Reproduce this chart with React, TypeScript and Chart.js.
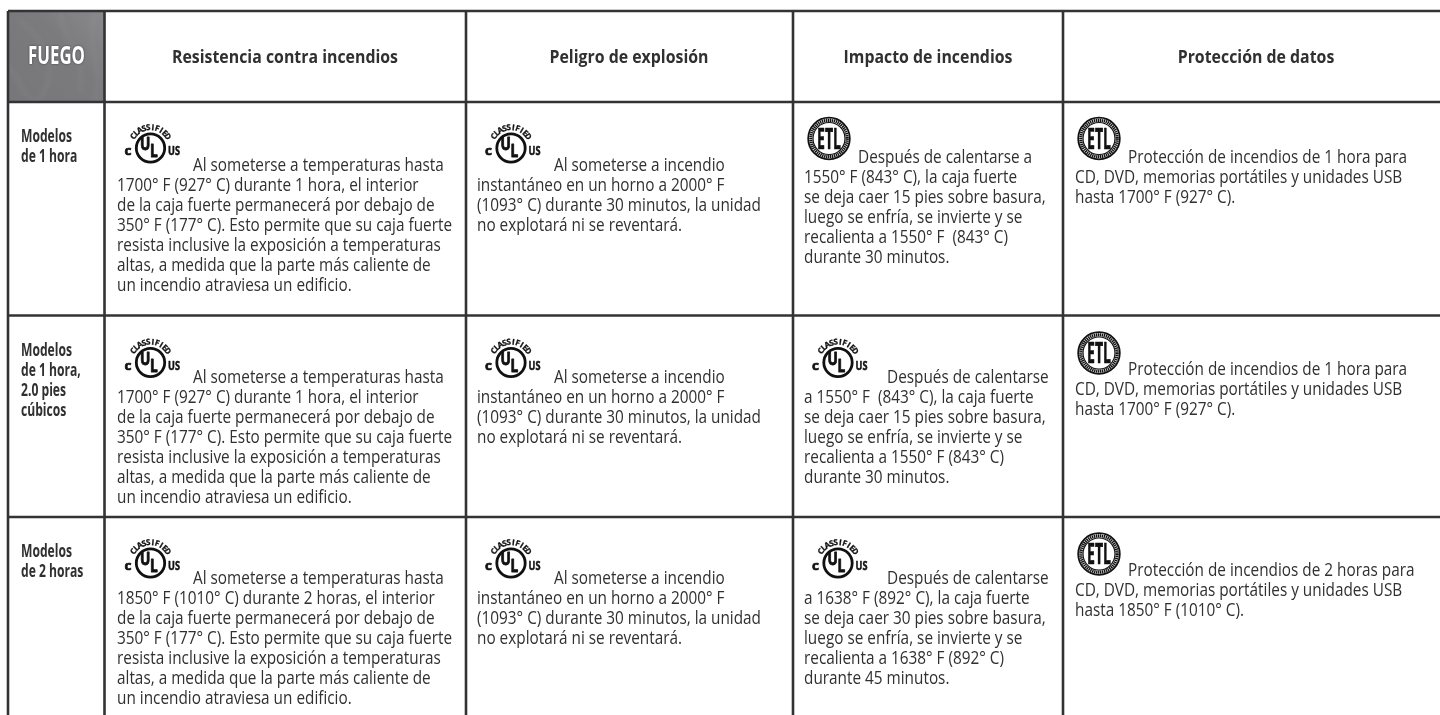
import React, { useEffect, useRef } from "react";
import { Chart, registerables } from "chart.js";

Chart.register(...registerables);

const cornerLabel = "FUEGO";
const columnHeaders = ["Resistencia contra incendios", "Peligro de explosión", "Impacto de incendios", "Protección de datos"];
const rowLabels = [
  ["Modelos", "de 1 hora"],
  ["Modelos", "de 1 hora,", "2.0 pies", "cúbicos"],
  ["Modelos", "de 2 horas"],
];
const resistencia = [
  ["Al someterse a temperaturas hasta", "1700° F (927° C) durante 1 hora, el interior", "de la caja fuerte permanecerá por debajo de", "350° F (177° C). Esto permite que su caja fuerte", "resista inclusive la exposición a temperaturas", "altas, a medida que la parte más caliente de", "un incendio atraviesa un edificio."],
  ["Al someterse a temperaturas hasta", "1700° F (927° C) durante 1 hora, el interior", "de la caja fuerte permanecerá por debajo de", "350° F (177° C). Esto permite que su caja fuerte", "resista inclusive la exposición a temperaturas", "altas, a medida que la parte más caliente de", "un incendio atraviesa un edificio."],
  ["Al someterse a temperaturas hasta", "1850° F (1010° C) durante 2 horas, el interior", "de la caja fuerte permanecerá por debajo de", "350° F (177° C). Esto permite que su caja fuerte", "resista inclusive la exposición a temperaturas", "altas, a medida que la parte más caliente de", "un incendio atraviesa un edificio."],
];
const explosion = [
  ["Al someterse a incendio", "instantáneo en un horno a 2000° F", "(1093° C) durante 30 minutos, la unidad", "no explotará ni se reventará."],
  ["Al someterse a incendio", "instantáneo en un horno a 2000° F", "(1093° C) durante 30 minutos, la unidad", "no explotará ni se reventará."],
  ["Al someterse a incendio", "instantáneo en un horno a 2000° F", "(1093° C) durante 30 minutos, la unidad", "no explotará ni se reventará."],
];
const impacto = [
  ["Después de calentarse a", "1550° F (843° C), la caja fuerte", "se deja caer 15 pies sobre basura,", "luego se enfría, se invierte y se", "recalienta a 1550° F  (843° C)", "durante 30 minutos."],
  ["Después de calentarse", "a 1550° F  (843° C), la caja fuerte", "se deja caer 15 pies sobre basura,", "luego se enfría, se invierte y se", "recalienta a 1550° F (843° C)", "durante 30 minutos."],
  ["Después de calentarse", "a 1638° F (892° C), la caja fuerte", "se deja caer 30 pies sobre basura,", "luego se enfría, se invierte y se", "recalienta a 1638° F (892° C)", "durante 45 minutos."],
];
const datos = [
  ["Protección de incendios de 1 hora para", "CD, DVD, memorias portátiles y unidades USB", "hasta 1700° F (927° C)."],
  ["Protección de incendios de 1 hora para", "CD, DVD, memorias portátiles y unidades USB", "hasta 1700° F (927° C)."],
  ["Protección de incendios de 2 horas para", "CD, DVD, memorias portátiles y unidades USB", "hasta 1850° F (1010° C)."],
];
const columnsText = [resistencia, explosion, impacto, datos];
const certMarks = [
  ["UL", "UL", "ETL", "ETL"],
  ["UL", "UL", "UL", "ETL"],
  ["UL", "UL", "UL", "ETL"],
];

// table geometry, in axis units (the axes run 0-1440 and 0-715)
const columnLines = [8, 104.5, 466, 793, 1063];
const rowLines = [11, 102, 315.5, 517];
const tableEnd = { x: 1440, y: 715 };
const textLeft = [117, 477, 804, 1075];
const indentAfterUL = [193, 554, 887, 1128];
const indentAfterETL = [193, 554, 858, 1128];
const ulCentre = [150.5, 511, 838];
const etlCentre = [0, 0, 829, 1099];
const rowBaseline = [171, 383, 584];
const etlCentreY = [138.5, 353, 554];
const ulCentreY = [148, 362.5, 563];
const rowLabelBaseline = [142, 356, 557];
const lineGap = 20;
const headerBaseline = 63;
const headerCentre = [285, 629, 928, 1256];

const BODY_FONT = "19px 'Open Sans'";
const BOLD_FONT = "bold 17px 'Open Sans'";
const MARK_FONT = "'Open Sans'";
const INK = "#303030";

function squeezed(ctx: CanvasRenderingContext2D, text: string, x: number, y: number, sx: number, align = "left", heavy = 0) {
  ctx.save();
  ctx.translate(x, y);
  ctx.scale(sx, 1);
  ctx.textAlign = align as CanvasTextAlign;
  if (heavy > 0) {
    ctx.lineWidth = heavy;
    ctx.lineJoin = "round";
    ctx.strokeText(text, 0, 0);
  }
  ctx.fillText(text, 0, 0);
  ctx.restore();
}

function drawUL(ctx: CanvasRenderingContext2D, cx: number, cy: number) {
  ctx.save();
  ctx.fillStyle = "#111";
  ctx.strokeStyle = "#111";
  ctx.lineWidth = 2.8;
  ctx.beginPath();
  ctx.arc(cx, cy, 14.2, 0, Math.PI * 2);
  ctx.stroke();
  ctx.textBaseline = "alphabetic";
  ctx.font = `bold 18px ${MARK_FONT}`;
  squeezed(ctx, "U", cx - 10.5, cy + 2, 0.76, "left", 0.9);
  squeezed(ctx, "L", cx - 0.5, cy + 9, 0.76, "left", 0.9);
  ctx.font = `bold 13px ${MARK_FONT}`;
  squeezed(ctx, "c", cx - 26, cy + 7, 1.05, "left", 0.6);
  ctx.font = `bold 12px ${MARK_FONT}`;
  squeezed(ctx, "US", cx + 17.5, cy + 7, 0.76, "left", 0.5);
  ctx.font = `bold 8px ${MARK_FONT}`;
  ctx.lineWidth = 0.3;
  const word = "CLASSIFIED";
  const span = (112 * Math.PI) / 180;
  [...word].forEach((ch, i) => {
    const a = -span / 2 + (span * i) / (word.length - 1);
    ctx.save();
    ctx.translate(cx + Math.sin(a) * 18, cy - Math.cos(a) * 18);
    ctx.rotate(a);
    ctx.textAlign = "center";
    ctx.strokeText(ch, 0, 0);
    ctx.fillText(ch, 0, 0);
    ctx.restore();
  });
  ctx.restore();
}

function drawETL(ctx: CanvasRenderingContext2D, cx: number, cy: number) {
  ctx.save();
  ctx.fillStyle = "#111";
  ctx.strokeStyle = "#111";
  ctx.lineWidth = 1.8;
  ctx.beginPath();
  ctx.arc(cx, cy, 20.8, 0, Math.PI * 2);
  ctx.stroke();
  ctx.setLineDash([1.4, 0.6]);
  ctx.lineWidth = 3.2;
  ctx.beginPath();
  ctx.arc(cx, cy, 18.2, 0, Math.PI * 2);
  ctx.stroke();
  ctx.setLineDash([]);
  ctx.lineWidth = 1.2;
  ctx.beginPath();
  ctx.arc(cx, cy, 16, 0, Math.PI * 2);
  ctx.stroke();
  ctx.font = `bold 28px ${MARK_FONT}`;
  ctx.textBaseline = "alphabetic";
  const sx = 24 / ctx.measureText("ETL").width;
  squeezed(ctx, "ETL", cx, cy + 10, sx, "center", 0.6);
  ctx.restore();
}

function drawCorner(ctx: CanvasRenderingContext2D, x0: number, y0: number, x1: number, y1: number) {
  ctx.save();
  ctx.beginPath();
  ctx.rect(x0, y0, x1 - x0, y1 - y0);
  ctx.clip();
  const g = ctx.createLinearGradient(x0, y1, x1, y0);
  g.addColorStop(0, "#777779");
  g.addColorStop(0.6, "#7b7b7d");
  g.addColorStop(1, "#8a8a8c");
  ctx.fillStyle = g;
  ctx.fillRect(x0, y0, x1 - x0, y1 - y0);
  ctx.filter = "blur(2.5px)";
  ctx.lineWidth = 3;
  const wisps = [
    [0.1, 0.1, 0.4, 0.3, 0.55, 0.7, 0.3, 1],
    [0.55, 0, 0.5, 0.25, 0.8, 0.4, 0.75, 0.9],
    [0.9, 0.05, 0.8, 0.4, 1, 0.7, 0.9, 1],
    [0, 0.6, 0.15, 0.75, 0.1, 0.9, 0.3, 1],
  ];
  ctx.strokeStyle = "rgba(160,160,162,0.22)";
  wisps.forEach((w) => {
    const px = (f: number) => x0 + f * (x1 - x0);
    const py = (f: number) => y0 + f * (y1 - y0);
    ctx.beginPath();
    ctx.moveTo(px(w[0]), py(w[1]));
    ctx.bezierCurveTo(px(w[2]), py(w[3]), px(w[4]), py(w[5]), px(w[6]), py(w[7]));
    ctx.stroke();
  });
  ctx.filter = "none";
  ctx.restore();
}

const tablePlugin = {
  id: "tableText",
  beforeDatasetsDraw(chart: any) {
    const { ctx, scales } = chart;
    const X = (v: number) => scales.x.getPixelForValue(v);
    const Y = (v: number) => scales.y.getPixelForValue(v);
    drawCorner(ctx, X(columnLines[0]), Y(rowLines[0]), X(columnLines[1]), Y(rowLines[1]));
  },
  afterDatasetsDraw(chart: any) {
    const { ctx, scales } = chart;
    const X = (v: number) => scales.x.getPixelForValue(v);
    const Y = (v: number) => scales.y.getPixelForValue(v);
    ctx.save();
    ctx.textBaseline = "alphabetic";

    ctx.font = "bold 25px 'Open Sans'";
    const cornerScale = 57 / ctx.measureText(cornerLabel).width;
    ctx.fillStyle = "#fff";
    ctx.shadowColor = "rgba(40,40,40,0.8)";
    ctx.shadowBlur = 2;
    squeezed(ctx, cornerLabel, X(56.5), Y(64), cornerScale, "center");
    ctx.shadowBlur = 0;
    ctx.shadowColor = "transparent";

    ctx.fillStyle = INK;
    ctx.font = BOLD_FONT;
    const headScale = 226 / ctx.measureText(columnHeaders[0]).width;
    columnHeaders.forEach((h, i) => squeezed(ctx, h, X(headerCentre[i]), Y(headerBaseline), headScale, "center"));

    ctx.font = "bold 18px 'Open Sans'";
    const labelScale = 51 / ctx.measureText("Modelos").width;
    rowLabels.forEach((lines, r) => {
      lines.forEach((t, k) => squeezed(ctx, t, X(21), Y(rowLabelBaseline[r] + k * lineGap), labelScale));
    });

    ctx.font = BODY_FONT;
    const bodyScale = 335 / ctx.measureText(resistencia[0][3]).width;
    columnsText.forEach((col, c) => {
      col.forEach((lines, r) => {
        const mark = certMarks[r][c];
        const base = rowBaseline[r] - (mark === "ETL" ? 8 : 0);
        const indent = mark === "ETL" ? indentAfterETL : indentAfterUL;
        lines.forEach((t, k) => {
          const left = k === 0 ? indent[c] : textLeft[c];
          squeezed(ctx, t, X(left), Y(base + k * lineGap), bodyScale);
        });
        if (mark === "UL") drawUL(ctx, X(ulCentre[c]), Y(ulCentreY[r]));
        else drawETL(ctx, X(etlCentre[c]), Y(etlCentreY[r]));
      });
    });
    ctx.restore();
  },
};

export default function App() {
  const ref = useRef<HTMLCanvasElement | null>(null);
  useEffect(() => {
    if (!ref.current) return;
    const rule = (points: { x: number; y: number }[]) => ({
      data: points,
      showLine: true,
      borderColor: "#333335",
      borderWidth: 2.6,
      pointRadius: 0,
      clip: false as const,
    });
    const chart = new Chart(ref.current, {
      type: "scatter",
      data: {
        datasets: [
          ...columnLines.map((x) => rule([{ x, y: rowLines[0] }, { x, y: tableEnd.y }])),
          ...rowLines.map((y) => rule([{ x: columnLines[0], y }, { x: tableEnd.x, y }])),
        ],
      },
      options: {
        animation: false,
        responsive: false,
        devicePixelRatio: 1,
        layout: { padding: 0 },
        plugins: { legend: { display: false }, tooltip: { enabled: false } },
        scales: {
          x: { type: "linear", min: 0, max: tableEnd.x, display: false },
          y: { type: "linear", min: 0, max: tableEnd.y, reverse: true, display: false },
        },
      },
      plugins: [tablePlugin],
    });
    return () => chart.destroy();
  }, []);
  return <canvas ref={ref} width={1440} height={715} style={{ position: "fixed", left: 0, top: 0, width: 1440, height: 715 }} />;
}
